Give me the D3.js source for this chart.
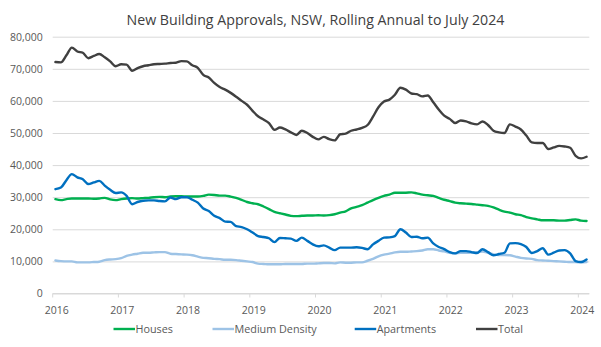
<!DOCTYPE html>
<html><head><meta charset="utf-8">
<script src="https://cdn.jsdelivr.net/npm/d3@7"></script>
<style>
html,body{margin:0;padding:0;background:#fff;}
svg{display:block;font-family:"Open Sans",sans-serif;}
</style></head>
<body><svg id="c" width="601" height="347"></svg>
<script>
// Monthly categories Jan 2016 .. Feb 2024
const startMonth = new Date(2016, 0, 1);
const endMonth = new Date(2024, 2, 1);
const months = d3.timeMonth.range(startMonth, endMonth);
const yearTicks = ["2016","2017","2018","2019","2020","2021","2022","2023","2024"];
const yTicks = [0,10000,20000,30000,40000,50000,60000,70000,80000];

const houses = [29400,29100,29400,29600,29600,29600,29600,29500,29600,29800,29300,29100,
29400,29600,29700,29600,29700,29800,30000,30100,30000,30200,30300,30300,
30200,30200,30200,30400,30800,30700,30500,30500,30200,29800,29200,28500,
28100,27800,27100,26300,25400,25000,24600,24200,24100,24200,24300,24300,
24400,24300,24400,24700,25200,25600,26500,27000,27500,28300,29100,29800,
30400,30800,31400,31400,31400,31500,31200,30800,30600,30400,29800,29200,
28800,28300,28100,28000,27900,27700,27500,27300,26800,26100,25500,25200,
24700,24400,23800,23400,23100,22800,22800,22800,22700,22700,22900,23100,
22700,22600];
const mediumDensity = [10300,10100,10000,10000,9700,9700,9700,9800,9900,10400,10600,10700,
11000,11700,12100,12400,12700,12700,12800,12900,12900,12400,12300,12200,
12100,11900,11500,11100,11000,10800,10700,10500,10500,10400,10200,10000,
9800,9300,9200,9100,9100,9100,9200,9200,9200,9200,9300,9300,
9400,9500,9500,9400,9700,9600,9600,9700,9700,10200,10800,11600,
12100,12400,12800,13000,13000,13100,13200,13400,13800,13800,13400,13100,
12700,12500,12700,12700,12700,12900,13100,12700,12200,12000,12000,11900,
11500,11100,10900,10800,10400,10300,10200,10100,10000,9900,9800,9800,
9700,9800];
const apartments = [32500,33000,35300,37200,36200,35600,34100,34600,35100,33600,32300,31300,
31500,30400,27800,28500,28900,29000,29000,28800,28700,29900,29400,30000,
30000,29200,28300,26500,25700,24200,23500,22400,22300,21000,20700,20000,
19000,17900,17600,17200,16000,17300,17200,17100,16400,17400,16400,15300,
14700,15000,14300,13500,14300,14300,14300,14400,14200,13800,15300,16400,
17400,17500,17900,20000,19000,17600,17700,17200,17400,15600,14500,13800,
12900,12500,13200,13200,12900,12600,13800,12900,11900,12300,12700,15600,
15700,15400,14500,12600,13200,14100,12100,12700,13400,13500,12500,10100,
9800,10600];
const total = [72100,72000,74200,76600,75400,75000,73300,74000,74600,73600,72300,70800,
71400,71300,69400,70200,70800,71100,71400,71500,71600,71800,71900,72400,
72300,71100,70300,68100,67300,65600,64300,63500,62500,61300,60000,58800,
56900,55200,54200,53100,51000,51700,51100,50200,49400,50700,50000,48800,
48000,48800,48100,47700,49600,49800,50700,51100,51600,52500,55100,58000,
59800,60400,61900,64100,63500,62300,62100,61400,61700,59600,57300,55400,
54400,53100,53900,53600,53000,52700,53600,52500,50700,50200,50000,52700,
52000,51100,49200,47100,46900,46900,45000,45500,46000,45800,45400,42900,
42100,42600];

const seriesNames = ["Houses","Medium Density","Apartments","Total"];
const seriesValues = [houses, mediumDensity, apartments, total];
const seriesColors = ["#00B050","#9DC3E6","#0070C0","#404040"];

const svg = d3.select("#c");
const M = {left:52.7, right:589.3, top:36.7, bottom:293.5};

const x = d3.scaleBand().domain(months.map(d=>+d)).range([M.left, M.right]).padding(0);
const y = d3.scaleLinear().domain([0,80000]).range([M.bottom, M.top]);
const cx = d => x(+d) + x.bandwidth()/2;

// title
svg.append("text").attr("x",315.5).attr("y",24.5).attr("text-anchor","middle")
  .attr("font-size",14.2).attr("fill","#404040")
  .text("New Building Approvals, NSW, Rolling Annual to July 2024");

// grid
const yAxis = d3.axisLeft(y).tickValues(yTicks).tickSize(-(M.right-M.left)).tickPadding(10)
  .tickFormat(d3.format(","));
const gy = svg.append("g").attr("transform",`translate(${M.left},0)`).call(yAxis);
gy.select(".domain").remove();
gy.selectAll(".tick line").attr("stroke","#D9D9D9").attr("stroke-width",1);
gy.selectAll(".tick text").attr("fill","#595959").attr("font-size",10.5)
  .attr("font-family","Open Sans, sans-serif");

// x axis ticks at January boundaries
const janMonths = months.filter(d=>d.getMonth()===0);
const gx = svg.append("g").attr("transform",`translate(0,${M.bottom})`);
gx.append("line").attr("x1",M.left).attr("x2",M.right).attr("stroke","#D9D9D9");
gx.selectAll("line.t").data(janMonths).join("line").attr("class","t")
  .attr("x1",d=>x(+d)).attr("x2",d=>x(+d)).attr("y1",0).attr("y2",4).attr("stroke","#D9D9D9");
gx.selectAll("text").data(janMonths).join("text")
  .attr("x",(d)=>cx(d)+1.2).attr("y",20).attr("text-anchor","middle")
  .attr("fill","#595959").attr("font-size",10.5)
  .text((d,i)=>yearTicks[i]);

// lines
const line = d3.line().x((d,i)=>cx(months[i])).y(d=>y(d)).curve(d3.curveMonotoneX);
seriesValues.forEach((vals,k)=>{
  svg.append("path").datum(vals).attr("d",line).attr("fill","none")
    .attr("stroke",seriesColors[k]).attr("stroke-width",2.4)
    .attr("stroke-linejoin","round").attr("stroke-linecap","round");
});

// legend
const legendX = [113.5, 212.5, 354.7, 476];
const lg = svg.append("g").attr("transform","translate(0,329)");
seriesNames.forEach((n,k)=>{
  lg.append("line").attr("x1",legendX[k]).attr("x2",legendX[k]+21.5).attr("y1",0).attr("y2",0)
    .attr("stroke",seriesColors[k]).attr("stroke-width",2.4);
  lg.append("text").attr("x",legendX[k]+22).attr("y",3.8).attr("font-size",10.8)
    .attr("fill","#595959").text(n);
});
</script></body></html>
